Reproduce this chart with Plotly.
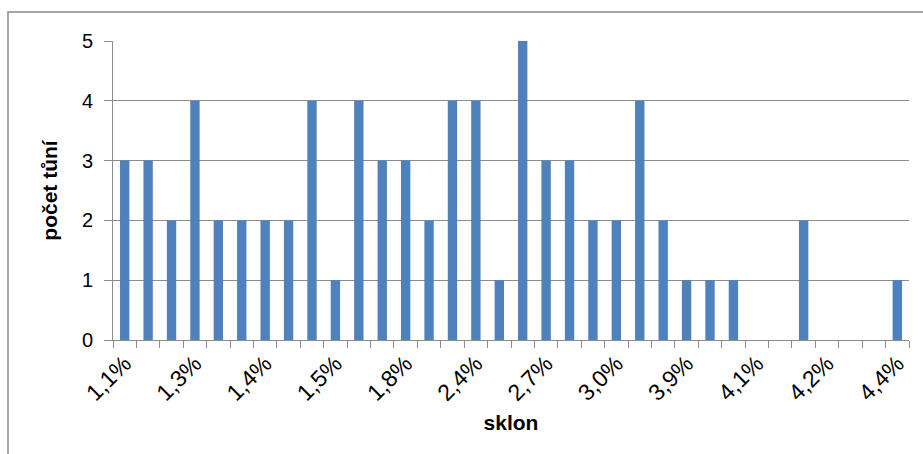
import plotly.graph_objects as go

# slope categories (every third label is shown on the axis, intermediate ones estimated)
categories = ["1,1%", "1,2%", "1,2%", "1,3%", "1,3%", "1,4%", "1,4%", "1,4%", "1,5%", "1,5%",
              "1,6%", "1,7%", "1,8%", "2,0%", "2,2%", "2,4%", "2,5%", "2,6%", "2,7%", "2,8%",
              "2,9%", "3,0%", "3,2%", "3,6%", "3,9%", "4,0%", "4,0%", "4,1%", "4,1%", "4,2%",
              "4,2%", "4,3%", "4,3%", "4,4%"]
counts = [3, 3, 2, 4, 2, 2, 2, 2, 4, 1,
          4, 3, 3, 2, 4, 4, 1, 5, 3, 3,
          2, 2, 4, 2, 1, 1, 1, 0, 0, 2,
          0, 0, 0, 1]
label_step = 3
y_ticks = [0, 1, 2, 3, 4, 5]

positions = list(range(len(categories)))
tick_positions = positions[::label_step]
tick_labels = categories[::label_step]
boundaries = [p - 0.5 for p in positions] + [positions[-1] + 0.5]

fig = go.Figure()
fig.add_trace(go.Bar(x=positions, y=counts, marker=dict(color="#4F81BD", line=dict(width=0)),
                     width=0.4))

grid = "#8C8C8C"
font_family = "Liberation Sans"

fig.update_layout(
    width=923, height=454,
    margin=dict(l=113, r=14, t=41, b=114, autoexpand=False),
    paper_bgcolor="white", plot_bgcolor="white",
    showlegend=False,
    font=dict(family=font_family, color="#000000", size=20),
    bargap=0.6,
)
fig.update_yaxes(
    range=[0, 5], tickmode="array", tickvals=y_ticks,
    tickfont_size=20, ticks="outside", ticklen=8, tickcolor=grid,
    ticklabelstandoff=7, automargin=False,
    showgrid=True, gridcolor=grid, gridwidth=1, zeroline=False,
    showline=True, linecolor=grid, linewidth=1,
    title=dict(text="<b>počet tůní</b>", font=dict(size=21), standoff=18),
)
fig.update_xaxes(
    range=[-0.5, len(categories) - 0.5],
    tickmode="array", tickvals=tick_positions, ticktext=tick_labels,
    tickangle=-45, tickfont_size=23, automargin=False,
    ticks="", showgrid=False, zeroline=False,
    showline=True, linecolor=grid, linewidth=1,
    minor=dict(tickmode="array", tickvals=boundaries, ticks="outside",
               ticklen=7, tickcolor=grid, tickwidth=1, showgrid=False),
    title=dict(text="<b>sklon</b>", font=dict(size=21), standoff=10),
)

# outer chart frame (extends beyond the window on right and bottom)
fig.add_shape(type="rect", xref="paper", yref="paper",
              x0=(8 - 113) / 796, x1=(935 - 113) / 796,
              y0=(340 - 470) / 299, y1=(340 - 12) / 299,
              line=dict(color="#8A8A8A", width=1.5), layer="below")

fig.write_html("out.html")
